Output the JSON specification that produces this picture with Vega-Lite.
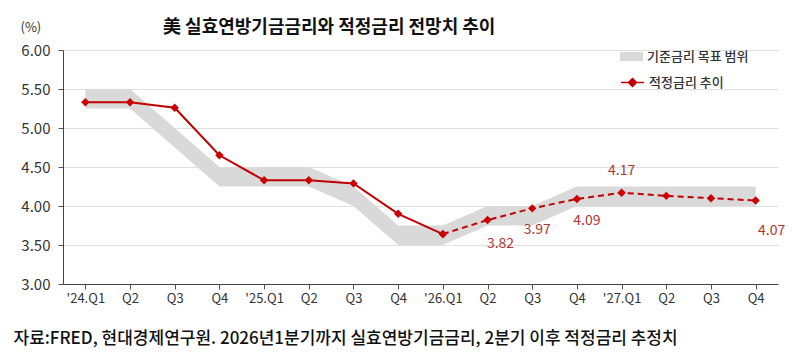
{
  "$schema": "https://vega.github.io/schema/vega-lite/v6.json",
  "width": 715,
  "height": 234,
  "autosize": {"type": "none"},
  "padding": {"left": 63, "top": 50, "right": 22, "bottom": 75},
  "background": "white",
  "config": {
    "font": "Noto Sans CJK KR",
    "view": {"stroke": null},
    "axis": {"labelColor": "#333333", "titleColor": "#333333", "domainColor": "#555555", "tickColor": "#555555"}
  },
  "title": {
    "text": "美 실효연방기금금리와 적정금리 전망치 추이",
    "anchor": "start",
    "frame": "group",
    "dx": 100,
    "offset": -16,
    "fontSize": 18,
    "fontWeight": "bold",
    "color": "#111111"
  },
  "datasets": {
    "band": [
      {"q": "'24.Q1", "rate": 5.25, "hi": 5.5},
      {"q": "Q2 ", "rate": 5.25, "hi": 5.5},
      {"q": "Q3 ", "rate": 4.75, "hi": 5.0},
      {"q": "Q4 ", "rate": 4.25, "hi": 4.5},
      {"q": "'25.Q1", "rate": 4.25, "hi": 4.5},
      {"q": "Q2  ", "rate": 4.25, "hi": 4.5},
      {"q": "Q3  ", "rate": 4.0, "hi": 4.25},
      {"q": "Q4  ", "rate": 3.5, "hi": 3.75},
      {"q": "'26.Q1", "rate": 3.5, "hi": 3.75},
      {"q": "Q2   ", "rate": 3.75, "hi": 4.0},
      {"q": "Q3   ", "rate": 3.75, "hi": 4.0},
      {"q": "Q4   ", "rate": 4.0, "hi": 4.25},
      {"q": "'27.Q1", "rate": 4.0, "hi": 4.25},
      {"q": "Q2    ", "rate": 4.0, "hi": 4.25},
      {"q": "Q3    ", "rate": 4.0, "hi": 4.25},
      {"q": "Q4    ", "rate": 4.0, "hi": 4.25}
    ],
    "rate": [
      {"q": "'24.Q1", "rate": 5.33, "kind": "actual"},
      {"q": "Q2 ", "rate": 5.33, "kind": "actual"},
      {"q": "Q3 ", "rate": 5.26, "kind": "actual"},
      {"q": "Q4 ", "rate": 4.65, "kind": "actual"},
      {"q": "'25.Q1", "rate": 4.33, "kind": "actual"},
      {"q": "Q2  ", "rate": 4.33, "kind": "actual"},
      {"q": "Q3  ", "rate": 4.29, "kind": "actual"},
      {"q": "Q4  ", "rate": 3.9, "kind": "actual"},
      {"q": "'26.Q1", "rate": 3.64, "kind": "actual"},
      {"q": "'26.Q1", "rate": 3.64, "kind": "forecast"},
      {"q": "Q2   ", "rate": 3.82, "kind": "forecast"},
      {"q": "Q3   ", "rate": 3.97, "kind": "forecast"},
      {"q": "Q4   ", "rate": 4.09, "kind": "forecast"},
      {"q": "'27.Q1", "rate": 4.17, "kind": "forecast"},
      {"q": "Q2    ", "rate": 4.13, "kind": "forecast"},
      {"q": "Q3    ", "rate": 4.1, "kind": "forecast"},
      {"q": "Q4    ", "rate": 4.07, "kind": "forecast"}
    ]
  },
  "encoding": {
    "x": {
      "field": "q",
      "type": "nominal",
      "scale": {
        "domain": ["'24.Q1", "Q2 ", "Q3 ", "Q4 ", "'25.Q1", "Q2  ", "Q3  ", "Q4  ", "'26.Q1", "Q2   ", "Q3   ", "Q4   ", "'27.Q1", "Q2    ", "Q3    ", "Q4    "],
        "paddingInner": 0,
        "paddingOuter": 0
      },
      "axis": {
        "title": "자료:FRED, 현대경제연구원. 2026년1분기까지 실효연방기금금리, 2분기 이후 적정금리 추정치",
        "titleFontSize": 17,
        "titleFontWeight": 500,
        "titleColor": "#111111",
        "titleAlign": "left",
        "titleAnchor": "start",
        "titleX": -50,
        "titleY": 59,
        "titleBaseline": "alphabetic",
        "labelAngle": 0,
        "labelFontSize": 13,
        "labelPadding": 3,
        "tickSize": 5,
        "bandPosition": 0,
        "grid": false,
        "domainColor": "#444444"
      }
    },
    "y": {
      "field": "rate",
      "type": "quantitative",
      "scale": {"domain": [3, 6], "nice": false, "zero": false},
      "axis": {
        "values": [3, 3.5, 4, 4.5, 5, 5.5, 6],
        "labelOverlap": false,
        "format": ".2f",
        "labelFontSize": 15,
        "labelPadding": 8,
        "tickSize": 5,
        "gridColor": "#e0e0e0",
        "domainColor": "#444444",
        "title": "(%)",
        "titleAngle": 0,
        "titleFontSize": 13,
        "titleFontWeight": "normal",
        "titleAlign": "left",
        "titleBaseline": "middle",
        "titleX": -43,
        "titleY": -23
      }
    }
  },
  "layer": [
    {
      "data": {"name": "band"},
      "mark": {"type": "area", "opacity": 1},
      "encoding": {
        "y2": {"field": "hi"},
        "fill": {
          "datum": "기준금리 목표 범위",
          "scale": {"range": ["#d9d9d9"]},
          "legend": {
            "title": null,
            "orient": "none",
            "legendX": 557,
            "legendY": -5,
            "padding": 0,
            "symbolType": "M-1,-0.4H1V0.4H-1Z",
            "symbolSize": 529,
            "symbolStrokeWidth": 0,
            "labelFontSize": 13,
            "labelFontWeight": 500,
            "labelColor": "#333333",
            "labelLimit": 300
          }
        }
      }
    },
    {
      "data": {"name": "rate"},
      "transform": [{"filter": "datum.kind === 'actual'"}],
      "mark": {"type": "line", "strokeWidth": 2},
      "encoding": {
        "stroke": {
          "datum": "적정금리 추이",
          "scale": {"range": ["#c00000"]},
          "legend": {
            "title": null,
            "orient": "none",
            "legendX": 557,
            "legendY": 20,
            "padding": 0,
            "symbolType": "M-1,0H1M0,-0.35L0.35,0L0,0.35L-0.35,0Z",
            "symbolSize": 529,
            "symbolStrokeWidth": 1.5,
            "symbolFillColor": "#c00000",
            "symbolStrokeColor": "#c00000",
            "labelFontSize": 13,
            "labelFontWeight": 500,
            "labelColor": "#333333",
            "labelLimit": 300
          }
        }
      }
    },
    {
      "data": {"name": "rate"},
      "transform": [{"filter": "datum.kind === 'forecast'"}],
      "mark": {"type": "line", "strokeWidth": 2, "strokeDash": [6, 4]},
      "encoding": {
        "stroke": {"datum": "적정금리 추이"}
      }
    },
    {
      "data": {"name": "rate"},
      "mark": {"type": "point", "shape": "diamond", "filled": true, "opacity": 1, "size": 70, "color": "#cc0000"}
    },
    {
      "data": {"name": "rate"},
      "transform": [{"filter": "datum.q === 'Q2   '"}],
      "mark": {"type": "text", "dx": 13, "dy": 24, "fontSize": 14, "color": "#b03535"},
      "encoding": {"text": {"field": "rate", "type": "quantitative", "format": ".2f"}}
    },
    {
      "data": {"name": "rate"},
      "transform": [{"filter": "datum.q === 'Q3   '"}],
      "mark": {"type": "text", "dx": 5, "dy": 22, "fontSize": 14, "color": "#b03535"},
      "encoding": {"text": {"field": "rate", "type": "quantitative", "format": ".2f"}}
    },
    {
      "data": {"name": "rate"},
      "transform": [{"filter": "datum.q === 'Q4   '"}],
      "mark": {"type": "text", "dx": 10, "dy": 22, "fontSize": 14, "color": "#b03535"},
      "encoding": {"text": {"field": "rate", "type": "quantitative", "format": ".2f"}}
    },
    {
      "data": {"name": "rate"},
      "transform": [{"filter": "datum.q === \"'27.Q1\""}],
      "mark": {"type": "text", "dx": 0, "dy": -22, "fontSize": 14, "color": "#b03535"},
      "encoding": {"text": {"field": "rate", "type": "quantitative", "format": ".2f"}}
    },
    {
      "data": {"name": "rate"},
      "transform": [{"filter": "datum.q === 'Q4    '"}],
      "mark": {"type": "text", "dx": 16, "dy": 30, "fontSize": 14, "color": "#b03535"},
      "encoding": {"text": {"field": "rate", "type": "quantitative", "format": ".2f"}}
    }
  ]
}
